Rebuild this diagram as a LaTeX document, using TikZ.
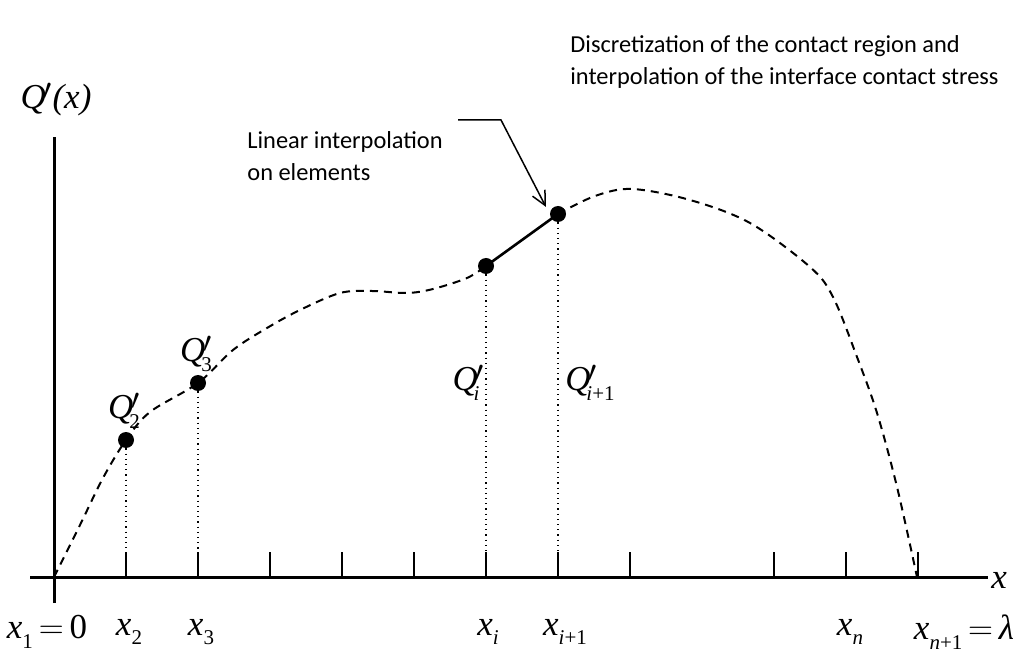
\documentclass[tikz,border=0pt]{standalone}
\usepackage{graphicx}
\usepackage{fontspec}
\setmainfont{Carlito}
\newfontfamily\tms{Liberation Serif}
\usetikzlibrary{arrows.meta}
\newcommand\subs[1]{\raisebox{-0.28em}{\upshape\fontsize{10.5}{12}\selectfont #1}}
\newcommand\pr{\raisebox{0.26em}{\scalebox{0.85}{$\prime$}}}
\newcommand\Qp[1]{Q\kern-0.06em\rlap{\pr}\kern-0.06em\subs{#1}}
\begin{document}
\begin{tikzpicture}[x=0.5pt,y=-0.5pt,
  axisline/.style={line width=1.5pt},
  tickline/.style={line width=1pt},
  curveline/.style={line width=1pt,dash pattern=on 4pt off 3pt},
  dropline/.style={line width=0.6pt,dotted},
  dotnode/.style={circle,fill=black,inner sep=0pt,minimum size=8pt},
  mlabel/.style={inner sep=0pt,font=\tms\itshape\fontsize{17.5}{20}\selectfont},
  note/.style={align=left,inner sep=0pt,font=\fontsize{12.2}{16}\selectfont,anchor=west},
  pointer/.style={line width=0.75pt,-{Straight Barb[length=7pt,width=7pt]}}]
\useasboundingbox (0,0) rectangle (1026,651);
% axes
\coordinate (xl) at (30,577);
\coordinate (xr) at (988,577);
\coordinate (yb) at (54,603);
\coordinate (yt) at (54,137);
\draw[axisline] (xl) -- (xr);
\draw[axisline] (yb) -- (yt);
\node[mlabel] (xlab) at (999,580) {x};
\node[mlabel] (ylab) at (56,100) {Q\kern-0.06em\pr\kern0.02em(x)};
% ticks
\foreach \n/\xx in {2/126,3/198,4/270,5/342,6/414,i/486,j/558,8/630,9/774,n/846,m/918}{
  \coordinate (tb\n) at (\xx,577);
  \coordinate (tt\n) at (\xx,552);
  \draw[tickline] (tb\n) -- (tt\n);
}
% points
\node[dotnode] (q2) at (126,440) {};
\node[dotnode] (q3) at (198,383) {};
\node[dotnode] (qi) at (486,266) {};
\node[dotnode] (qj) at (558,214) {};
\draw[dropline] (q2) -- (tt2);
\draw[dropline] (q3) -- (tt3);
\draw[dropline] (qi) -- (tti);
\draw[dropline] (qj) -- (ttj);
% curve
\draw[curveline] plot[smooth,tension=0.55] coordinates {(54,577) (80,525) (103,478) (126,440) (150,412) (198,383) (233,350) (267,328) (300,310) (340,293) (372,291) (407,293) (433,289) (467,278) (486,266)};
\draw[line width=1.3pt] (qi.center) -- (qj.center);
\draw[curveline] plot[smooth,tension=0.55] coordinates {(558,214) (595,196) (632,189) (690,200) (750,223) (810,267) (833,297) (857,357) (877,413) (897,487) (917,577)};
% point labels
\node[mlabel] (lq2) at (124,411) {\Qp{2}};
\node[mlabel] (lq3) at (196,354) {\Qp{3}};
\node[mlabel] (lqi) at (466,383) {\Qp{\itshape i}};
\node[mlabel] (lqj) at (590,383) {\Qp{{\itshape i}+1}};
% axis labels
\node[mlabel] (lx1) at (47,632) {x\subs{1}\,{\upshape$=$}\,{\upshape 0}};
\node[mlabel] (lx2) at (129,632) {x\subs{2}};
\node[mlabel] (lx3) at (201,632) {x\subs{3}};
\node[mlabel] (lxi) at (488,632) {x\subs{\itshape i}};
\node[mlabel] (lxj) at (565,632) {x\subs{{\itshape i}+1}};
\node[mlabel] (lxn) at (850,632) {x\subs{\itshape n}};
\node[mlabel] (lxm) at (964,632) {x\subs{{\itshape n}+1}\,{\upshape$=$}\,λ};
% notes
\node[note] (n1) at (247,156) {Linear interpolation\\on elements};
\node[note] (n2) at (570,62) {Discretization of the contact region and\\interpolation of the interface contact stress};
\coordinate (a0) at (458,120);
\coordinate (a1) at (501,120);
\draw[pointer,shorten >=4pt] (a0) -- (a1) -- (qj.west);
\end{tikzpicture}
\end{document}
